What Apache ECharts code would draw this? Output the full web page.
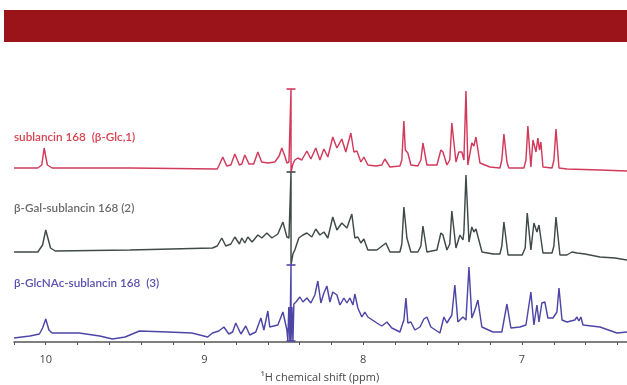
<!DOCTYPE html>
<html>
<head>
<meta charset="utf-8">
<script src="https://cdn.jsdelivr.net/npm/echarts@6/dist/echarts.min.js"></script>
<style>
html,body{margin:0;padding:0;background:#fff;}
#c{width:627px;height:385px;}
</style>
</head>
<body>
<div id="c"></div>
<script>
// ---- Data (ppm, relative intensity) ----
var seriesNames = ['sublancin 168  (β-Glc,1)', 'β-Gal-sublancin 168 (2)', 'β-GlcNAc-sublancin 168  (3)'];

var redPpm = [10.2,10.05,10.025,10.01,9.99,9.96,9.47,8.92,8.91,8.885,8.86,8.834,8.809,8.78,8.765,8.746,8.72,8.69,8.664,8.64,8.6,8.557,8.53,8.513,8.494,8.481,8.468,8.455,8.455,8.443,8.431,8.412,8.387,8.355,8.33,8.299,8.273,8.248,8.223,8.192,8.166,8.135,8.11,8.078,8.059,8.04,8.015,7.996,7.971,7.92,7.883,7.864,7.832,7.769,7.757,7.744,7.735,7.719,7.7,7.656,7.637,7.624,7.599,7.536,7.511,7.498,7.473,7.455,7.442,7.416,7.398,7.379,7.366,7.353,7.341,7.316,7.303,7.29,7.265,7.202,7.139,7.127,7.114,7.095,7.083,6.988,6.975,6.963,6.944,6.931,6.912,6.9,6.89,6.881,6.868,6.811,6.799,6.786,6.767,6.717,6.509,6.339,6.2];
var redInt = [4,4,7,24,7,4,4,3,6,15,6,7,18,7,8,17,8,8,20,10,9,10,16,24,16,9,10,83,0,8,12,14,12,21,13,24,12,23,15,35,24,33,20,39,20,21,10,15,7,6,7,13,5,6,12,51,22,19,7,6,12,29,7,7,22,20,7,12,49,10,20,20,12,81,7,29,26,35,9,5,4,12,38,10,4,4,12,46,5,32,20,34,22,30,5,4,12,43,4,3,2,1,1];

var grayPpm = [10.2,10.05,10.02,10.0,9.97,9.94,9.47,8.95,8.92,8.891,8.866,8.834,8.809,8.78,8.765,8.746,8.727,8.7,8.664,8.639,8.607,8.576,8.538,8.506,8.481,8.468,8.455,8.455,8.443,8.431,8.406,8.38,8.355,8.324,8.299,8.273,8.248,8.223,8.192,8.166,8.135,8.103,8.072,8.053,8.034,8.015,7.996,7.971,7.914,7.857,7.832,7.769,7.757,7.744,7.725,7.7,7.656,7.637,7.624,7.599,7.536,7.511,7.498,7.473,7.455,7.442,7.416,7.391,7.372,7.366,7.353,7.334,7.316,7.303,7.29,7.252,7.181,7.139,7.127,7.114,7.088,6.999,6.98,6.967,6.944,6.925,6.906,6.893,6.868,6.811,6.799,6.786,6.761,6.717,6.685,6.654,6.603,6.509,6.414,6.339,6.2];
var grayInt = [10,10,17,32,14,11,12,14,16,24,16,18,25,18,24,19,25,20,27,24,29,24,28,40,25,24,90,-3,8,12,24,27,29,25,33,27,30,24,45,32,39,34,48,24,25,19,23,12,12,19,10,10,18,55,24,10,10,16,36,10,12,29,27,12,18,51,14,27,22,30,87,20,35,30,33,10,8,8,16,40,7,7,14,49,12,39,30,37,9,9,16,45,7,7,10,9,8,5,4,2,1];

var bluePpm = [10.2,10.1,10.04,10.02,10.0,9.98,9.96,9.79,9.66,9.58,9.5,9.41,9.23,9.08,8.98,8.95,8.91,8.878,8.847,8.823,8.803,8.771,8.74,8.715,8.677,8.645,8.626,8.601,8.589,8.538,8.506,8.481,8.475,8.469,8.462,8.455,8.455,8.449,8.443,8.437,8.424,8.399,8.38,8.355,8.33,8.305,8.286,8.267,8.248,8.229,8.21,8.192,8.166,8.147,8.122,8.103,8.084,8.065,8.053,8.034,8.009,7.99,7.971,7.914,7.883,7.851,7.82,7.769,7.744,7.731,7.719,7.7,7.675,7.643,7.618,7.599,7.574,7.517,7.492,7.473,7.442,7.423,7.404,7.372,7.353,7.334,7.316,7.297,7.278,7.253,7.183,7.127,7.095,7.07,7.013,6.975,6.944,6.925,6.906,6.893,6.875,6.856,6.837,6.805,6.78,6.767,6.748,6.717,6.667,6.654,6.642,6.629,6.616,6.509,6.402,6.339,6.2];
var blueInt = [4,6,8,14,23,12,9,9,6,3,5,11,10,9,5,9,11,15,8,10,19,8,16,7,10,24,12,31,15,17,30,12,1,35,1,77,1,35,1,38,40,45,40,44,39,47,61,39,49,56,40,50,47,37,44,39,44,37,48,34,25,30,25,19,16,20,14,10,22,44,19,20,12,15,23,25,15,9,25,19,27,57,20,25,22,75,24,32,42,15,10,10,38,14,15,17,50,17,37,20,39,40,24,24,30,54,22,20,22,25,21,25,17,15,9,10,10];

// truncated water signal: [ppm, top, bottom] per spectrum
var waterPpm = 8.455;
var waterTop = [83, 90, 77];
var waterBottom = [null, -3, 1];

var tickMin = 6.2, tickMax = 10.2, tickStep = 0.2;

var colors = ['#d23a5c', '#3f4a49', '#4e46a6'];
var labelColors = ['#d6424f', '#6a6a6a', '#5a50ae'];
var labelY = [137, 208, 283];
var gridBottoms = [172, 262, 342];

function zip(a, b) { return a.map(function (v, i) { return [v, b[i]]; }); }
var datasets = [zip(redPpm, redInt), zip(grayPpm, grayInt), zip(bluePpm, blueInt)];

var grids = [], xAxes = [], yAxes = [], series = [];
for (var i = 0; i < 3; i++) {
  grids.push({ left: 14, width: 635, top: gridBottoms[i] - 100, height: 100, containLabel: false, outerBoundsMode: 'none' });
  var isLast = i === 2;
  xAxes.push({
    gridIndex: i, type: 'value', min: tickMin, max: tickMax, interval: tickStep, inverse: true,
    show: isLast, offset: 6,
    axisLine: { show: isLast, lineStyle: { color: '#555', width: 1.5 } },
    axisTick: { show: isLast, length: 3, lineStyle: { color: '#555', width: 1 } },
    splitLine: { show: false },
    axisLabel: {
      show: isLast, color: '#444', fontSize: 11, fontFamily: 'Open Sans', margin: 6,
      formatter: function (v) { return Math.abs(v - Math.round(v)) < 1e-6 ? String(Math.round(v)) : ''; }
    }
  });
  yAxes.push({ gridIndex: i, type: 'value', min: 0, max: 100, show: false });
  var mp = [{ coord: [waterPpm, waterTop[i]] }];
  if (waterBottom[i] !== null) mp.push({ coord: [waterPpm, waterBottom[i]] });
  series.push({
    type: 'line', xAxisIndex: i, yAxisIndex: i, data: datasets[i], showSymbol: false, symbol: 'none',
    clip: false, smooth: false, lineStyle: { color: colors[i], width: 1.45 },
    markPoint: {
      symbol: 'rect', symbolSize: [9, 1.6], itemStyle: { color: colors[i] }, label: { show: false },
      data: mp, silent: true
    },
    z: 3 - i
  });
}

var graphics = [
  { type: 'rect', shape: { x: 4, y: 10, width: 623, height: 32 }, style: { fill: '#9b1419' } },
  { type: 'text', x: 320, y: 378, style: { text: '¹H chemical shift (ppm)', fill: '#444', font: '11px "Open Sans"', textAlign: 'center', textVerticalAlign: 'middle' } }
];
for (var j = 0; j < 3; j++) {
  graphics.push({ type: 'text', x: 14, y: labelY[j], style: { text: seriesNames[j], fill: labelColors[j], font: '600 11.7px Lato', textVerticalAlign: 'middle' } });
}

var chart = echarts.init(document.getElementById('c'));
chart.setOption({
  animation: false,
  backgroundColor: '#fff',
  grid: grids, xAxis: xAxes, yAxis: yAxes, series: series, graphic: graphics
});
</script>
</body>
</html>
